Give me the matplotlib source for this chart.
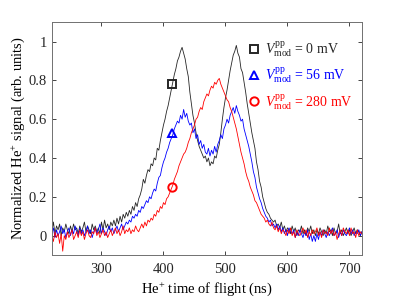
import matplotlib
matplotlib.use("Agg")
from matplotlib import pyplot as plt
import numpy as np

plt.rcParams['font.family'] = ['Liberation Serif', 'DejaVu Serif']
plt.rcParams['mathtext.fontset'] = 'custom'
plt.rcParams['mathtext.rm'] = 'Liberation Serif'
plt.rcParams['mathtext.it'] = 'Liberation Serif:italic'

# time of flight grid (ns), 2.5 ns steps from 220 to 720
tof = np.arange(220, 720.1, 2.5)

sig_0mV = [0.02, 0.07, 0.01, 0.05, 0.03, 0.06, 0.00, 0.04, 0.02, 0.06,
           0.03, 0.01, 0.05, 0.02, 0.06, 0.03, 0.04, 0.01, 0.05, 0.02,
           0.04, 0.07, 0.02, 0.05, 0.03, 0.01, 0.06, 0.03, 0.05, 0.02,
           0.04, 0.01, 0.07, 0.03, 0.08, 0.04, 0.06, 0.03, 0.07, 0.05,
           0.08, 0.05, 0.09, 0.06, 0.10, 0.07, 0.11, 0.09, 0.12, 0.10,
           0.13, 0.11, 0.15, 0.13, 0.17, 0.15, 0.19, 0.21, 0.24, 0.29,
           0.27, 0.31, 0.34, 0.33, 0.37, 0.36, 0.40, 0.39, 0.45, 0.44,
           0.49, 0.53, 0.57, 0.60, 0.64, 0.67, 0.71, 0.75, 0.79, 0.83,
           0.86, 0.90, 0.92, 0.95, 0.97, 0.94, 0.91, 0.86, 0.82, 0.74,
           0.68, 0.62, 0.58, 0.53, 0.49, 0.46, 0.44, 0.42, 0.40, 0.41,
           0.38, 0.40, 0.36, 0.38, 0.37, 0.41, 0.40, 0.44, 0.47, 0.53,
           0.60, 0.66, 0.71, 0.75, 0.80, 0.85, 0.89, 0.93, 0.95, 0.98,
           0.94, 0.92, 0.86, 0.84, 0.79, 0.74, 0.68, 0.63, 0.58, 0.53,
           0.49, 0.45, 0.38, 0.34, 0.28, 0.25, 0.20, 0.17, 0.14, 0.12,
           0.11, 0.09, 0.08, 0.07, 0.08, 0.05, 0.06, 0.04, 0.07, 0.03,
           0.05, 0.02, 0.04, 0.03, 0.01, 0.05, 0.02, 0.04, 0.00, 0.03,
           0.02, 0.05, 0.01, 0.03, 0.00, 0.04, 0.02, 0.05, 0.01, 0.03,
           0.00, 0.03, 0.01, 0.04, 0.02, 0.00, 0.03, 0.01, 0.05, 0.02,
           0.03, 0.00, 0.04, 0.01, 0.02, 0.06, 0.01, 0.03, 0.00, 0.02,
           0.04, 0.01, 0.03, 0.00, 0.02, 0.04, 0.01, 0.03, 0.02, 0.00,
           0.02]

sig_56mV = [0.01, 0.04, -0.01, 0.03, 0.00, 0.02, 0.05, 0.01, 0.03, -0.01,
            0.02, 0.04, 0.00, 0.03, 0.01, 0.05, 0.02, 0.00, 0.04, 0.01,
            0.03, 0.00, 0.02, 0.05, 0.01, 0.03, -0.01, 0.02, 0.04, 0.01,
            0.03, 0.06, 0.01, 0.04, 0.02, 0.00, 0.03, 0.05, 0.02, 0.04,
            0.01, 0.03, 0.05, 0.02, 0.04, 0.06, 0.03, 0.05, 0.07, 0.06,
            0.08, 0.07, 0.10, 0.09, 0.11, 0.10, 0.13, 0.12, 0.15, 0.14,
            0.16, 0.18, 0.17, 0.20, 0.19, 0.22, 0.24, 0.23, 0.27, 0.30,
            0.31, 0.35, 0.38, 0.40, 0.43, 0.45, 0.48, 0.50, 0.52, 0.55,
            0.57, 0.59, 0.58, 0.62, 0.60, 0.65, 0.61, 0.63, 0.59, 0.57,
            0.58, 0.53, 0.55, 0.50, 0.52, 0.47, 0.49, 0.45, 0.47, 0.43,
            0.42, 0.45, 0.41, 0.44, 0.42, 0.46, 0.43, 0.47, 0.49, 0.52,
            0.50, 0.55, 0.57, 0.60, 0.58, 0.62, 0.64, 0.66, 0.63, 0.67,
            0.64, 0.62, 0.59, 0.60, 0.55, 0.52, 0.49, 0.46, 0.42, 0.38,
            0.33, 0.30, 0.25, 0.22, 0.19, 0.17, 0.14, 0.12, 0.10, 0.09,
            0.07, 0.08, 0.05, 0.06, 0.04, 0.06, 0.03, 0.05, 0.02, 0.04,
            0.01, 0.03, 0.00, 0.04, 0.02, 0.01, 0.03, -0.01, 0.02, 0.00,
            0.03, 0.01, -0.01, 0.02, 0.00, 0.03, -0.02, 0.01, -0.03, 0.00,
            -0.03, 0.01, -0.02, 0.02, 0.00, 0.03, 0.01, -0.01, 0.02, 0.00,
            0.02, 0.04, 0.00, 0.01, 0.03, -0.01, 0.02, 0.00, 0.03, 0.01,
            0.00, 0.02, 0.04, 0.01, 0.03, 0.00, 0.02, 0.01, 0.03, 0.00,
            0.02]

sig_280mV = [0.00, -0.03, 0.02, -0.01, 0.01, -0.04, 0.01, -0.08, 0.00, -0.02,
             0.02, -0.01, 0.01, 0.03, -0.02, 0.00, 0.02, -0.01, 0.03, 0.00,
             0.02, -0.02, 0.01, 0.03, 0.00, -0.01, 0.02, 0.01, 0.04, 0.00,
             0.02, -0.01, 0.01, 0.03, 0.00, 0.02, -0.01, 0.01, 0.03, 0.00,
             0.02, 0.04, 0.01, 0.03, 0.00, 0.02, 0.05, 0.01, 0.03, 0.02,
             0.04, 0.01, 0.03, 0.02, 0.05, 0.03, 0.02, 0.04, 0.06, 0.04,
             0.07, 0.05, 0.08, 0.07, 0.09, 0.08, 0.11, 0.10, 0.13, 0.12,
             0.15, 0.14, 0.17, 0.16, 0.19, 0.20, 0.22, 0.24, 0.26, 0.29,
             0.31, 0.33, 0.36, 0.38, 0.40, 0.42, 0.43, 0.45, 0.48, 0.50,
             0.53, 0.55, 0.57, 0.60, 0.61, 0.64, 0.66, 0.65, 0.69, 0.71,
             0.73, 0.72, 0.75, 0.77, 0.76, 0.79, 0.78, 0.80, 0.81, 0.78,
             0.76, 0.74, 0.72, 0.70, 0.69, 0.66, 0.64, 0.61, 0.58, 0.55,
             0.51, 0.47, 0.43, 0.40, 0.37, 0.33, 0.30, 0.28, 0.25, 0.23,
             0.21, 0.18, 0.17, 0.15, 0.13, 0.11, 0.10, 0.09, 0.07, 0.08,
             0.06, 0.05, 0.07, 0.04, 0.03, 0.05, 0.02, 0.04, 0.01, 0.03,
             0.02, 0.00, 0.03, 0.01, 0.04, 0.00, 0.02, -0.01, 0.03, 0.01,
             0.00, 0.02, 0.04, 0.01, 0.03, -0.01, 0.02, 0.00, 0.03, 0.01,
             0.02, 0.04, 0.00, 0.02, -0.01, 0.03, 0.01, 0.02, 0.00, 0.04,
             0.01, 0.03, 0.00, 0.02, -0.02, 0.01, 0.03, 0.00, 0.04, 0.02,
             0.01, 0.03, 0.00, 0.04, 0.01, 0.02, -0.01, 0.03, 0.00, 0.02,
             0.01]

# single marker on each curve
mark_x = [413, 414, 414]
mark_y = [0.78, 0.53, 0.25]
labels = [r'$V_{\rm mod}^{\rm pp}$ = 0 mV', r'$V_{\rm mod}^{\rm pp}$ = 56 mV', r'$V_{\rm mod}^{\rm pp}$ = 280 mV']
colors = ['#262626', '#0000ff', '#ff0000']
markers = ['s', '^', 'o']

fig = plt.figure(figsize=(3.99, 2.99), dpi=100)
ax = fig.add_axes([0.130, 0.147, 0.777, 0.779])

handles = []
for sig, c, m, mx, my, lab in zip([sig_0mV, sig_56mV, sig_280mV], colors, markers, mark_x, mark_y, labels):
    ax.plot(tof, sig, color=c, lw=0.6)
    h, = ax.plot([mx], [my], ls='none', marker=m, ms=6, mew=1.4, mfc='none', mec=c, label=lab)
    handles.append(h)

ax.set_xlim(220, 720)
ax.set_ylim(-0.1, 1.1)
ax.set_xticks([300, 400, 500, 600, 700])
ax.set_yticks([0, 0.2, 0.4, 0.6, 0.8, 1])
ax.set_yticklabels(['0', '0.2', '0.4', '0.6', '0.8', '1'])
ax.tick_params(direction='in', top=True, right=True, labelsize=10.5, colors='#262626', length=3, width=0.6,
               labelcolor='#262626')
ax.tick_params(axis='x', pad=6)
for s in ax.spines.values():
    s.set_color('#707070')
    s.set_linewidth(0.7)

ax.set_xlabel(r'$\mathrm{He}^{+}$ time of flight (ns)', fontsize=10.5, labelpad=3)
ax.set_ylabel(r'Normalized $\mathrm{He}^{+}$ signal (arb. units)', fontsize=10.5, labelpad=1)

leg = ax.legend(handles=handles, loc='upper right', bbox_to_anchor=(1.01, 0.98), frameon=False,
                fontsize=10, handlelength=0.8, handletextpad=0.4, labelspacing=0.45,
                labelcolor='markeredgecolor')

fig.savefig('out.png', dpi=100)
